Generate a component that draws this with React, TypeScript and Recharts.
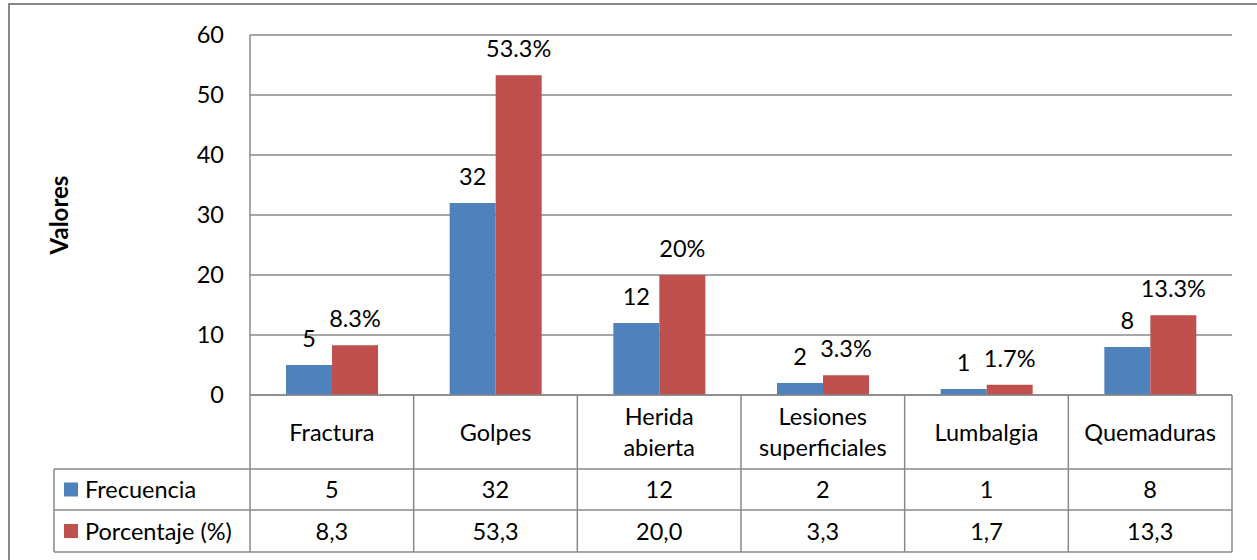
import { BarChart, Bar, XAxis, YAxis, CartesianGrid, LabelList } from 'recharts'

const categories = ['Fractura', 'Golpes', 'Herida abierta', 'Lesiones superficiales', 'Lumbalgia', 'Quemaduras']
const frecuencia = [5, 32, 12, 2, 1, 8]
const porcentaje = [8.3, 53.3, 20.0, 3.3, 1.7, 13.3]
const yTicks = [0, 10, 20, 30, 40, 50, 60]
const seriesNames = ['Frecuencia', 'Porcentaje (%)']

const data = categories.map((name, i) => ({
  name,
  frecuencia: frecuencia[i],
  porcentaje: porcentaje[i]
}))

const BLUE = '#4F81BD'
const RED = '#C0504D'
const GRID = '#888888'
const FONT = 'Lato, "Open Sans", sans-serif'
const FS = 23.5

// layout (px, page coords)
const W = 1257
const H = 560
const PLOT_LEFT = 250
const PLOT_RIGHT = 1232
const PLOT_TOP = 35
const PLOT_BOTTOM = 395
const ROW1 = 469
const ROW2 = 510
const ROW3 = 552
const TABLE_LEFT = 54
const Y_AXIS_W = 60
const BAND = (PLOT_RIGHT - PLOT_LEFT) / categories.length

const fmtPct = (v: number) => v.toFixed(1).replace('.', ',')

function TableTick(props: any) {
  const { x, payload } = props
  const i: number = payload.index ?? props.index
  const half = payload.offset || BAND / 2
  const left = x - half
  const right = x + half
  const lines = String(payload.value).split(' ')
  const catMid = (PLOT_BOTTOM + ROW1) / 2
  const lh = 31
  const row1Mid = (ROW1 + ROW2) / 2
  const row2Mid = (ROW2 + ROW3) / 2
  const textProps = { fontFamily: FONT, fontSize: FS, fill: '#000' }
  return (
    <g>
      <line x1={left} y1={PLOT_BOTTOM} x2={left} y2={ROW3} stroke={GRID} strokeWidth={1.5} />
      {i === categories.length - 1 && (
        <line x1={right} y1={PLOT_BOTTOM} x2={right} y2={ROW3} stroke={GRID} strokeWidth={1.5} />
      )}
      {[ROW1, ROW2, ROW3].map(yy => (
        <line key={yy} x1={left} y1={yy} x2={right} y2={yy} stroke={GRID} strokeWidth={1.5} />
      ))}
      <text textAnchor="middle" {...textProps}>
        {lines.map((l, k) => (
          <tspan key={k} x={x} y={catMid + (k - (lines.length - 1) / 2) * lh + 8.5}>
            {l}
          </tspan>
        ))}
      </text>
      <text x={x} y={row1Mid + 8.5} textAnchor="middle" {...textProps}>
        {frecuencia[i]}
      </text>
      <text x={x} y={row2Mid + 8.5} textAnchor="middle" {...textProps}>
        {fmtPct(porcentaje[i])}
      </text>
      {i === 0 && (
        <g>
          <line x1={TABLE_LEFT} y1={ROW1} x2={TABLE_LEFT} y2={ROW3} stroke={GRID} strokeWidth={1.5} />
          {[ROW1, ROW2, ROW3].map(yy => (
            <line key={yy} x1={TABLE_LEFT} y1={yy} x2={left} y2={yy} stroke={GRID} strokeWidth={1.5} />
          ))}
          <rect x={64} y={row1Mid - 7} width={14} height={14} fill={BLUE} />
          <rect x={64} y={row2Mid - 7} width={14} height={14} fill={RED} />
          <text x={85} y={row1Mid + 8.5} {...textProps}>{seriesNames[0]}</text>
          <text x={85} y={row2Mid + 8.5} {...textProps}>{seriesNames[1]}</text>
        </g>
      )}
    </g>
  )
}

export default function App() {
  return (
    <div style={{ position: 'absolute', left: 0, top: 0, width: W, height: H, overflow: 'hidden', background: '#fff' }}>
      <div
        style={{
          position: 'absolute',
          left: 8,
          top: 3,
          width: W + 20,
          height: H + 20,
          borderLeft: `2px solid ${GRID}`,
          borderTop: `2px solid ${GRID}`
        }}
      />
      <div style={{ position: 'absolute', left: 0, top: 0 }}>
        <BarChart
          width={W}
          height={H}
          data={data}
          margin={{ top: PLOT_TOP, right: W - PLOT_RIGHT, bottom: H - ROW3 - 1, left: PLOT_LEFT - Y_AXIS_W }}
          barCategoryGap="22%"
          barGap={0}
        >
          <CartesianGrid vertical={false} stroke={GRID} strokeWidth={1.5} />
          <XAxis
            dataKey="name"
            height={ROW3 - PLOT_BOTTOM + 1}
            interval={0}
            tickLine={false}
            tickSize={0}
            axisLine={{ stroke: GRID, strokeWidth: 1.5 }}
            tick={(p: any) => <TableTick {...p} />}
          />
          <YAxis
            width={Y_AXIS_W}
            domain={[0, 60]}
            ticks={yTicks}
            interval={0}
            tickLine={false}
            tickSize={0}
            tickMargin={26}
            axisLine={{ stroke: GRID, strokeWidth: 1.5 }}
            tick={{ fill: '#000', fontSize: FS, fontFamily: FONT }}
            label={{
              value: 'Valores',
              angle: -90,
              position: 'left',
              offset: 131,
              style: { fontFamily: FONT, fontSize: 24, fontWeight: 700, fill: '#000', textAnchor: 'middle' }
            }}
          />
          <Bar dataKey="frecuencia" fill={BLUE} isAnimationActive={false}>
            <LabelList dataKey="frecuencia" position="top" offset={18} fill="#000" fontSize={FS} fontFamily={FONT} />
          </Bar>
          <Bar dataKey="porcentaje" fill={RED} isAnimationActive={false}>
            <LabelList
              dataKey="porcentaje"
              position="top"
              offset={18}
              fill="#000"
              fontSize={FS}
              fontFamily={FONT}
              formatter={(v: any) => `${v}%`}
            />
          </Bar>
        </BarChart>
      </div>
    </div>
  )
}
